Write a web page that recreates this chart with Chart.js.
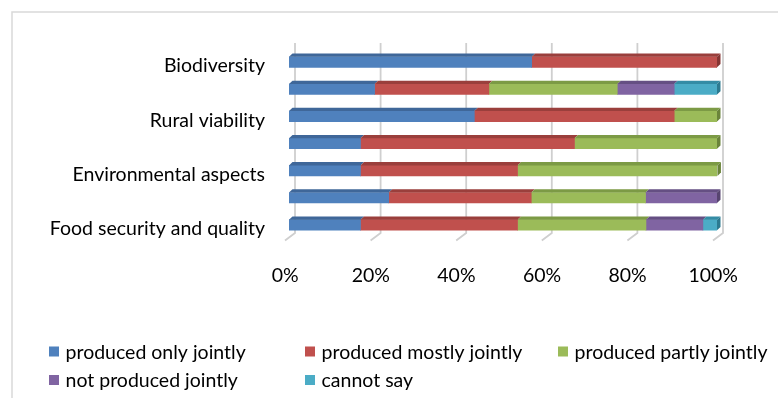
<!DOCTYPE html>
<html>
<head>
<meta charset="utf-8">
<script src="https://cdn.jsdelivr.net/npm/chart.js@4.4.0/dist/chart.umd.min.js"></script>
<style>
  html, body { margin: 0; padding: 0; background: #fff; }
  #wrap { width: 778px; height: 398px; position: relative; }
</style>
</head>
<body>
<div id="wrap"><canvas id="c" width="778" height="398"></canvas></div>
<script>
// Categories (every other row is left unlabelled on the axis)
const categories = ['Biodiversity', '', 'Rural viability', '', 'Environmental aspects', '', 'Food security and quality'];

// Share of answers per category, in percent
const onlyJointly   = [56.7, 20.0, 43.3, 16.7, 16.7, 23.3, 16.7];
const mostlyJointly = [43.3, 26.7, 46.7, 50.0, 36.7, 33.3, 36.7];
const partlyJointly = [0.0, 30.0, 10.0, 33.3, 46.7, 26.7, 30.0];
const notJointly    = [0.0, 13.3, 0.0, 0.0, 0.0, 16.7, 13.3];
const cannotSay     = [0.0, 10.0, 0.0, 0.0, 0.0, 0.0, 3.3];

const seriesNames = ['produced only jointly', 'produced mostly jointly', 'produced partly jointly',
                     'not produced jointly', 'cannot say'];
const xTickValues = [0, 20, 40, 60, 80, 100];

// Face colours: front, top (darker), end (darkest)
const frontColors = ['#4F81BD', '#C0504D', '#9BBB59', '#8064A2', '#4BACC6'];
const topColors   = ['#3F6799', '#9A3F3C', '#7C9A45', '#654F83', '#348CA5'];
const sideColors  = ['#355784', '#853533', '#6A843A', '#574470', '#2C7A90'];

const FONT = 'Lato, "Open Sans", sans-serif';
const FONT_SIZE = 19.5;

const seriesValues = [onlyJointly, mostlyJointly, partlyJointly, notJointly, cannotSay];

// Outer frame, back-wall gridlines and floor edges
const backdrop = {
  id: 'backdrop',
  beforeDraw(chart) {
    const ctx = chart.ctx;
    ctx.save();
    ctx.strokeStyle = '#d9d9d9';
    ctx.lineWidth = 1.5;
    ctx.beginPath();
    ctx.moveTo(12, 398);
    ctx.lineTo(12, 12);
    ctx.lineTo(778, 12);
    ctx.stroke();
    ctx.restore();
  },
  beforeDatasetsDraw(chart) {
    const ctx = chart.ctx;
    const xs = chart.scales.x;
    ctx.save();
    ctx.strokeStyle = '#cfcfcf';
    ctx.lineWidth = 1.8;
    xTickValues.forEach(v => {
      const px = xs.getPixelForValue(v) + 6;
      ctx.beginPath();
      ctx.moveTo(px, 43);
      ctx.lineTo(px, 233);
      ctx.lineTo(px - 10, 240.5);
      ctx.stroke();
    });
    ctx.restore();
  }
};

// Top and end faces that give the bars their depth
const barDepth = {
  id: 'barDepth',
  afterDatasetsDraw(chart) {
    const ctx = chart.ctx;
    const dx = 3.5, dy = 3.3;
    const lastInRow = [];
    ctx.save();
    chart.data.datasets.forEach((ds, di) => {
      const meta = chart.getDatasetMeta(di);
      meta.data.forEach((bar, idx) => {
        const p = bar.getProps(['x', 'y', 'base', 'height'], true);
        const left = Math.min(p.x, p.base), right = Math.max(p.x, p.base);
        if (right - left < 0.5) return;
        const top = p.y - p.height / 2, bottom = p.y + p.height / 2;
        ctx.fillStyle = topColors[di];
        ctx.beginPath();
        ctx.moveTo(left, top);
        ctx.lineTo(left + dx, top - dy);
        ctx.lineTo(right + dx, top - dy);
        ctx.lineTo(right, top);
        ctx.closePath();
        ctx.fill();
        lastInRow[idx] = { right, top, bottom, di };
      });
    });
    lastInRow.forEach(r => {
      if (!r) return;
      ctx.fillStyle = sideColors[r.di];
      ctx.beginPath();
      ctx.moveTo(r.right, r.top);
      ctx.lineTo(r.right + dx, r.top - dy);
      ctx.lineTo(r.right + dx, r.bottom - dy);
      ctx.lineTo(r.right, r.bottom);
      ctx.closePath();
      ctx.fill();
    });
    ctx.restore();
  }
};

// Legend laid out in fixed columns below the plot
const columnLegend = {
  id: 'columnLegend',
  afterDraw(chart) {
    const ctx = chart.ctx;
    const cols = [49, 305, 558];
    const rows = [351.5, 380];
    ctx.save();
    ctx.font = FONT_SIZE + 'px ' + FONT;
    ctx.textBaseline = 'middle';
    ctx.textAlign = 'left';
    chart.data.datasets.forEach((ds, i) => {
      const x = cols[i % 3], y = rows[Math.floor(i / 3)];
      ctx.fillStyle = ds.backgroundColor;
      ctx.fillRect(x, y - 5, 10, 10);
      ctx.fillStyle = '#000';
      ctx.fillText(ds.label, x + 16.5, y + 1);
    });
    ctx.restore();
  }
};

new Chart(document.getElementById('c'), {
  type: 'bar',
  data: {
    labels: categories,
    datasets: seriesValues.map((vals, i) => ({
      label: seriesNames[i],
      data: vals,
      backgroundColor: frontColors[i],
      borderWidth: 0,
      barThickness: 10.5
    }))
  },
  options: {
    indexAxis: 'y',
    responsive: false,
    animation: false,
    devicePixelRatio: 1,
    layout: { padding: { left: 0, top: 48.5, right: 61, bottom: 109.5 } },
    plugins: {
      legend: { display: false },
      tooltip: { enabled: false }
    },
    scales: {
      x: {
        stacked: true,
        min: 0,
        max: 100,
        grid: { display: false },
        border: { display: false },
        afterFit(s) { s.height = 50; },
        afterBuildTicks(s) { s.ticks = xTickValues.map(v => ({ value: v })); },
        ticks: {
          callback: v => v + '%',
          color: '#000',
          font: { family: FONT, size: FONT_SIZE },
          padding: 18,
          labelOffset: -3.8,
          maxRotation: 0
        }
      },
      y: {
        stacked: true,
        grid: { display: false },
        border: { display: false },
        afterFit(s) { s.width = 289; },
        ticks: {
          autoSkip: false,
          color: '#000',
          font: { family: FONT, size: FONT_SIZE },
          padding: 16,
          labelOffset: 4
        }
      }
    }
  },
  plugins: [backdrop, barDepth, columnLegend]
});
</script>
</body>
</html>
